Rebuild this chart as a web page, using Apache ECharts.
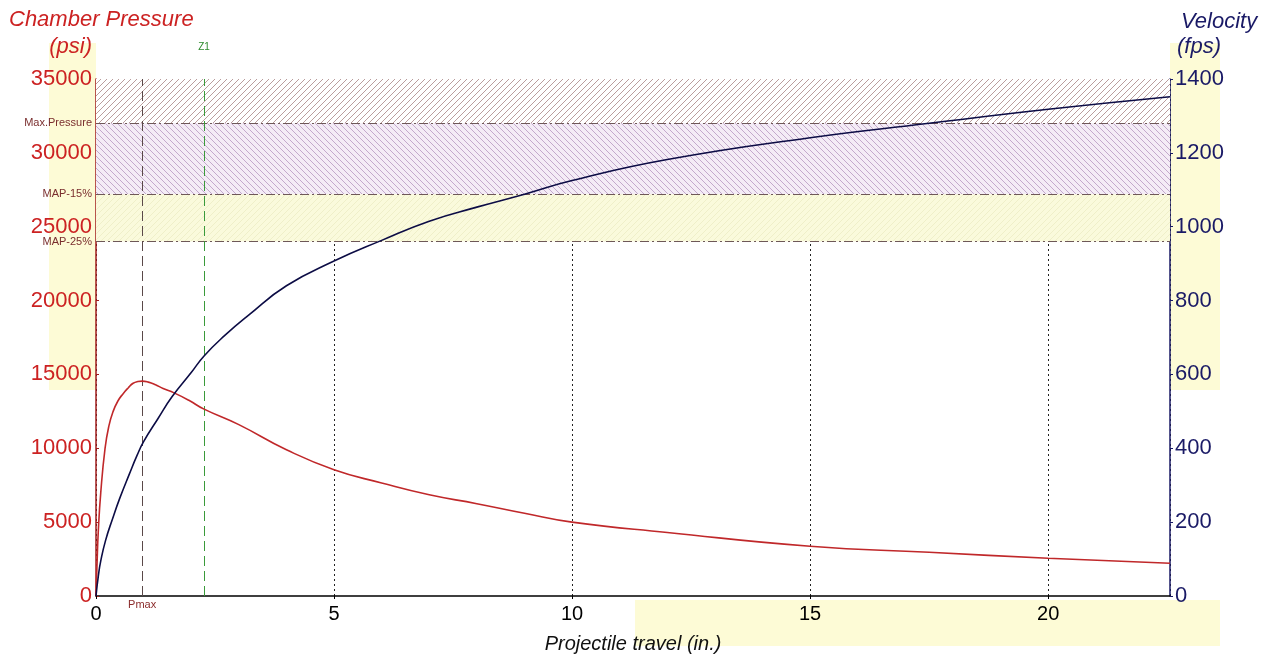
<!DOCTYPE html>
<html>
<head>
<meta charset="utf-8">
<script src="https://cdn.jsdelivr.net/npm/echarts@6/dist/echarts.min.js"></script>
<style>
html,body{margin:0;padding:0;background:#fff;}
#chart{width:1276px;height:659px;}
</style>
</head>
<body>
<div id="chart"></div>
<script>
// ---- data ----
const pressureX = [0, 0.02, 0.05, 0.1, 0.19, 0.27, 0.36, 0.46, 0.57, 0.68, 0.78, 0.88, 0.97, 1.1, 1.25, 1.41, 1.64, 1.95, 2.27, 3, 4, 5, 6, 7, 8, 9, 10, 12, 15, 17.5, 20, 22.56];
const pressureY = [0, 2000, 4500, 7000, 10000, 11500, 12500, 13200, 13700, 14100, 14400, 14520, 14550, 14480, 14300, 14050, 13750, 13250, 12650, 11600, 9900, 8550, 7650, 6850, 6250, 5600, 5000, 4300, 3370, 2960, 2560, 2220];
const velocityX = [0, 0.05, 0.1, 0.2, 0.35, 0.5, 0.7, 0.86, 1.0, 1.3, 1.6, 2.0, 2.27, 2.7, 3.2, 4, 5, 6, 7, 8, 9, 10, 12, 15, 17.5, 20, 22.56];
const velocityY = [0, 55, 95, 150, 210, 265, 330, 380, 418, 480, 540, 605, 650, 705, 760, 840, 907, 963, 1015, 1053, 1088, 1125, 1182, 1241, 1280, 1318, 1352];
const maxPressure = 32000;
const bandLines = [
  {name: 'Max.Pressure', value: 32000},
  {name: 'MAP-15%', value: 27200},
  {name: 'MAP-25%', value: 24000}
];
const pmaxTravel = 0.966;
const z1Travel = 2.27;
const xTicks = [0, 5, 10, 15, 20];
const xMax = 22.56;
const pressureMax = 35000, pressureStep = 5000;
const velocityMax = 1400, velocityStep = 200;

// ---- hatch patterns ----
function hatch(bg, fg, dir, size) {
  const c = document.createElement('canvas');
  c.width = size; c.height = size;
  const g = c.getContext('2d');
  g.fillStyle = bg; g.fillRect(0, 0, size, size);
  g.strokeStyle = fg; g.lineWidth = 0.8;
  g.beginPath();
  if (dir === '/') {
    g.moveTo(-1, size + 1); g.lineTo(size + 1, -1);
    g.moveTo(-1, 1); g.lineTo(1, -1);
    g.moveTo(size - 1, size + 1); g.lineTo(size + 1, size - 1);
  } else {
    g.moveTo(-1, -1); g.lineTo(size + 1, size + 1);
    g.moveTo(size - 1, -1); g.lineTo(size + 1, 1);
    g.moveTo(-1, size - 1); g.lineTo(1, size + 1);
  }
  g.stroke();
  return {image: c, repeat: 'repeat'};
}

const chart = echarts.init(document.getElementById('chart'));
const FONT = '"Liberation Sans", Arial, sans-serif';
const RED = '#cc2222', NAVY = '#1a1a66';

const option = {
  animation: false,
  backgroundColor: '#fff',
  grid: {left: 96, right: 106, top: 79, bottom: 60, containLabel: false},
  graphic: [
    {type: 'rect', z: -10, shape: {x: 49, y: 43, width: 47, height: 347}, style: {fill: '#fdfbd6'}},
    {type: 'rect', z: -10, shape: {x: 1170, y: 43, width: 50, height: 347}, style: {fill: '#fdfbd6'}},
    {type: 'rect', z: -10, shape: {x: 635, y: 600, width: 585, height: 46}, style: {fill: '#fdfbd6'}},
    {type: 'text', left: 9, top: 9, style: {text: 'Chamber Pressure', font: 'italic 22px ' + FONT, fill: RED}},
    {type: 'text', right: 1276 - 92, top: 36, style: {text: '(psi)', font: 'italic 22px ' + FONT, fill: RED, textAlign: 'right'}},
    {type: 'text', left: 1181, top: 11, style: {text: 'Velocity', font: 'italic 22px ' + FONT, fill: NAVY}},
    {type: 'text', left: 1177, top: 36, style: {text: '(fps)', font: 'italic 22px ' + FONT, fill: NAVY}}
  ],
  xAxis: {
    type: 'value', min: 0, max: xMax, interval: 5,
    name: 'Projectile travel (in.)', nameLocation: 'middle', nameGap: 38,
    nameTextStyle: {fontFamily: FONT, fontSize: 20, fontStyle: 'italic', color: '#111'},
    axisLine: {show: true, onZero: false, lineStyle: {color: '#000', width: 1.5}},
    axisTick: {show: true, length: 3, inside: false, lineStyle: {color: '#000'}},
    axisLabel: {fontFamily: FONT, fontSize: 20, color: '#000', margin: 8, showMaxLabel: false,
      formatter: v => xTicks.indexOf(v) >= 0 ? String(v) : ''},
    splitLine: {show: true, lineStyle: {color: '#222', type: [2, 3], width: 1}}
  },
  yAxis: [
    {
      type: 'value', min: 0, max: pressureMax, interval: pressureStep, position: 'left',
      axisLine: {show: true, lineStyle: {color: '#a01c1c', width: 1.5}},
      axisTick: {show: true, length: 3, inside: true, lineStyle: {color: '#a01c1c'}},
      axisLabel: {fontFamily: FONT, fontSize: 22, color: RED, margin: 4, formatter: v => String(v)},
      splitLine: {show: false}
    },
    {
      type: 'value', min: 0, max: velocityMax, interval: velocityStep, position: 'right',
      axisLine: {show: true, lineStyle: {color: NAVY, width: 1.5}},
      axisTick: {show: true, length: 3, inside: false, lineStyle: {color: NAVY}},
      axisLabel: {fontFamily: FONT, fontSize: 22, color: NAVY, margin: 5, formatter: v => String(v)},
      splitLine: {show: false}
    }
  ],
  series: [
    {
      name: 'Chamber Pressure', type: 'line', yAxisIndex: 0,
      data: pressureX.map((x, i) => [x, pressureY[i]]),
      smooth: 0.5, showSymbol: false, symbol: 'none',
      lineStyle: {color: '#c0282a', width: 1.6}, z: 5,
      markArea: {
        silent: true,
        data: [
          [{yAxis: maxPressure, itemStyle: {color: hatch('#ffffff', '#a88484', '/', 6)}}, {yAxis: pressureMax}],
          [{yAxis: bandLines[1].value, itemStyle: {color: hatch('#f4ecf6', '#b698c2', '\\', 6)}}, {yAxis: maxPressure}],
          [{yAxis: bandLines[2].value, itemStyle: {color: hatch('#fafadc', '#ececc4', '/', 6)}}, {yAxis: bandLines[1].value}]
        ]
      },
      markLine: {
        silent: true, symbol: 'none',
        data: bandLines.map(b => ({
          name: b.name, yAxis: b.value,
          lineStyle: {color: '#6e5858', width: 1, type: [9, 3, 2, 3]},
          label: {show: true, position: 'start', formatter: '{b}', distance: 4,
            fontFamily: FONT, fontSize: 11, color: '#7a2e2e'}
        })).concat([
          {name: 'Pmax', xAxis: pmaxTravel,
            lineStyle: {color: '#5a4848', width: 1, type: [10, 5]},
            label: {show: true, position: 'start', formatter: '{b}', distance: 3,
              fontFamily: FONT, fontSize: 11, color: '#8b2b2b'}},
          {name: 'Z1', xAxis: z1Travel,
            lineStyle: {color: '#3a9a3a', width: 1, type: [10, 5]},
            label: {show: true, position: 'end', formatter: '{b}', distance: 27,
              fontFamily: FONT, fontSize: 10, color: '#2e8b2e'}}
        ])
      }
    },
    {
      name: 'Velocity', type: 'line', yAxisIndex: 1,
      data: velocityX.map((x, i) => [x, velocityY[i]]),
      smooth: 0.5, showSymbol: false, symbol: 'none',
      lineStyle: {color: '#0c0c45', width: 1.6}, z: 6
    }
  ]
};
chart.setOption(option);
</script>
</body>
</html>
